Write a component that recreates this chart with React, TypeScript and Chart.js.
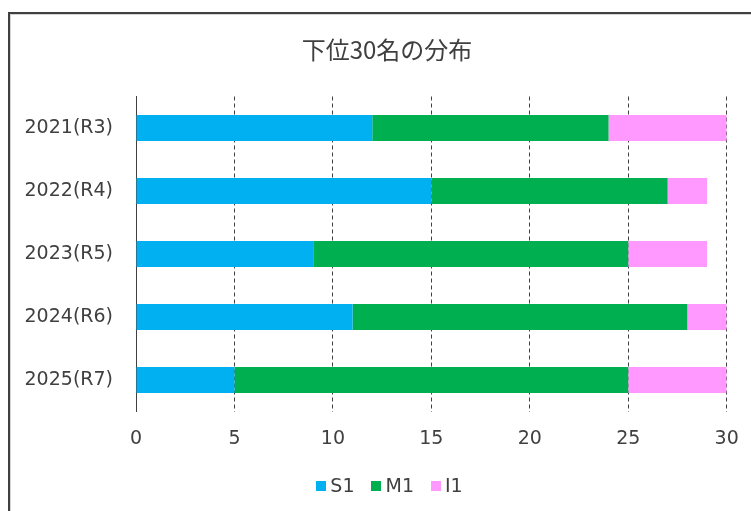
import React, { useEffect, useRef } from "react";
import { Chart, registerables } from "chart.js";

Chart.register(...registerables);

const TITLE = "下位30名の分布";
const CATEGORIES = ["2021(R3)", "2022(R4)", "2023(R5)", "2024(R6)", "2025(R7)"];
const SERIES_NAMES = ["S1", "M1", "I1"];
const S1 = [12, 15, 9, 11, 5];
const M1 = [12, 12, 16, 17, 20];
const I1 = [6, 2, 4, 2, 5];
const COLORS = ["#00B0F0", "#00B050", "#FF99FF"];
const X_MIN = 0;
const X_MAX = 30;
const X_STEP = 5;

const TEXT_COLOR = "#404040";
const LABEL_FONT = "DejaVu Sans";

const framePlugin = {
  id: "frameTitleLegend",
  beforeDraw(chart: any) {
    const ctx = chart.ctx;
    ctx.save();
    ctx.fillStyle = "#ffffff";
    ctx.fillRect(0, 0, chart.width, chart.height);
    ctx.strokeStyle = "#d4d4d4";
    ctx.lineWidth = 1;
    ctx.strokeRect(10.5, 14.5, 800, 600);
    ctx.strokeStyle = "#404040";
    ctx.lineWidth = 2;
    ctx.strokeRect(9, 13, 800, 600);
    ctx.restore();
  },
  afterDraw(chart: any) {
    const ctx = chart.ctx;
    ctx.save();
    // title
    ctx.fillStyle = TEXT_COLOR;
    ctx.font = '24px "Noto Sans CJK JP"';
    ctx.textAlign = "center";
    ctx.textBaseline = "middle";
    ctx.fillText(TITLE, 387, 50);
    // legend
    ctx.font = `19px "${LABEL_FONT}"`;
    ctx.textAlign = "left";
    const box = 10;
    const gapBoxText = 4;
    const gapItems = 17;
    const ds = chart.data.datasets;
    const widths = ds.map((d: any) => ctx.measureText(d.label).width);
    let total = 0;
    widths.forEach((w: number, i: number) => {
      total += box + gapBoxText + w + (i < widths.length - 1 ? gapItems : 0);
    });
    let x = 389.5 - total / 2;
    const cy = 486;
    ds.forEach((d: any, i: number) => {
      ctx.fillStyle = d.backgroundColor;
      ctx.fillRect(Math.round(x), cy - box / 2, box, box);
      ctx.fillStyle = TEXT_COLOR;
      ctx.fillText(d.label, x + box + gapBoxText, cy + 1);
      x += box + gapBoxText + widths[i] + gapItems;
    });
    ctx.restore();
  },
};

export default function App() {
  const ref = useRef<HTMLCanvasElement | null>(null);

  useEffect(() => {
    if (!ref.current) return;
    const seriesValues = [S1, M1, I1];
    const chart = new Chart(ref.current, {
      type: "bar",
      data: {
        labels: CATEGORIES,
        datasets: SERIES_NAMES.map((name, i) => ({
          label: name,
          data: seriesValues[i],
          backgroundColor: COLORS[i],
          borderWidth: 0,
          barPercentage: 26 / 63,
          categoryPercentage: 1,
        })),
      },
      options: {
        indexAxis: "y",
        responsive: false,
        animation: false,
        devicePixelRatio: 1,
        layout: {
          padding: { top: 96.5, left: 0, right: 24.3, bottom: 42.5 },
        },
        plugins: {
          legend: { display: false },
          title: { display: false },
          tooltip: { enabled: false },
        },
        scales: {
          x: {
            type: "linear",
            stacked: true,
            min: X_MIN,
            max: X_MAX,
            afterFit: (scale: any) => {
              scale.height = 57;
            },
            ticks: {
              stepSize: X_STEP,
              color: TEXT_COLOR,
              font: { family: LABEL_FONT, size: 19 },
              padding: 0,
            },
            grid: {
              display: true,
              color: "#404040",
              lineWidth: 1,
              drawTicks: true,
              tickLength: 16,
              tickColor: "rgba(0,0,0,0)",
            },
            border: { display: false, dash: [4, 3] },
          },
          y: {
            type: "category",
            stacked: true,
            afterFit: (scale: any) => {
              scale.width = 136;
            },
            ticks: {
              color: TEXT_COLOR,
              font: { family: LABEL_FONT, size: 19 },
              padding: 23,
            },
            grid: { display: false, drawTicks: false },
            border: { display: true, color: "#404040", width: 1 },
          },
        },
      },
      plugins: [framePlugin],
    });
    return () => chart.destroy();
  }, []);

  return (
    <div style={{ position: "fixed", left: 0, top: 0, width: 751, height: 511 }}>
      <canvas ref={ref} width={751} height={511} style={{ width: 751, height: 511, display: "block" }} />
    </div>
  );
}
